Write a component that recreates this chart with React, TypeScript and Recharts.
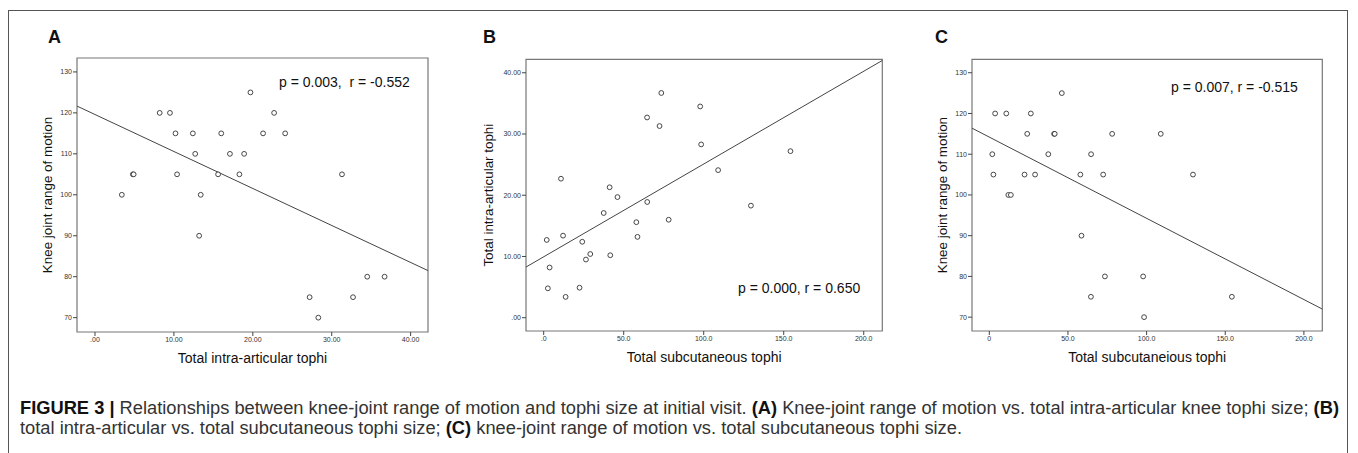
import React from 'react';
import { ScatterChart, Scatter, XAxis, YAxis, ReferenceArea, ReferenceLine } from 'recharts';

// One entry per patient
const subcutaneousTophi = [1.9, 2.6, 3.7, 10.8, 12.1, 13.7, 22.4, 24.1, 26.4, 29.1, 37.5, 41.2, 41.6, 46.1, 57.9, 58.6, 64.6, 64.7, 72.4, 73.5, 78.1, 97.8, 98.4, 109.0, 129.5, 154.2];
const intraArticularTophi = [12.7, 4.8, 8.2, 22.7, 13.4, 3.4, 4.9, 12.4, 9.5, 10.4, 17.1, 21.3, 10.2, 19.7, 15.6, 13.2, 32.7, 18.9, 31.3, 36.7, 16.0, 34.5, 28.3, 24.1, 18.3, 27.2];
const kneeRangeOfMotion = [110, 105, 120, 120, 100, 100, 105, 115, 120, 105, 110, 115, 115, 125, 105, 90, 75, 110, 105, 80, 115, 80, 70, 115, 105, 75];

// Axis ticks
const intraTicks = [0, 10, 20, 30, 40];
const kneeTicks = [70, 80, 90, 100, 110, 120, 130];
const subcutTicks = [0, 50, 100, 150, 200];

// Axis domains (as drawn)
const domainA_X = [-2.28, 42.2];
const domainA_Y = [66.5, 133.4];
const domainB_X = [-11.06, 211.6];
const domainB_Y = [-2.17, 42.2];
const domainC_X = [-11.0, 211.7];
const domainC_Y = [66.6, 133.3];

// Fitted lines: [intercept, slope]
const fitA = [119.6, -0.903];
const fitB = [9.95, 0.1515];
const fitC = [114.2, -0.1994];

const statsA = 'p = 0.003,  r = -0.552';
const statsB = 'p = 0.000, r = 0.650';
const statsC = 'p = 0.007, r = -0.515';

const FONT = '"Liberation Sans", Arial, sans-serif';

const dataA = intraArticularTophi.map((x, i) => ({ x, y: kneeRangeOfMotion[i] }));
const dataB = subcutaneousTophi.map((x, i) => ({ x, y: intraArticularTophi[i] }));
const dataC = subcutaneousTophi.map((x, i) => ({ x, y: kneeRangeOfMotion[i] }));

const OpenCircle = (props: any) => (
  <circle cx={props.cx} cy={props.cy} r={2.4} fill="#fff" stroke="#333" strokeWidth={0.9} />
);

type PanelProps = {
  left: number;
  width: number;
  margin: { top: number; right: number; bottom: number; left: number };
  yAxisWidth: number;
  data: { x: number; y: number }[];
  xDomain: number[];
  yDomain: number[];
  xTicks: number[];
  yTicks: number[];
  xFmt: (v: number) => string;
  yFmt: (v: number) => string;
  xTitle: string;
  yTitle: string;
  fit: number[];
};

const tickStyle = { fontSize: 7, fill: '#333', fontFamily: FONT };
const titleStyle = { fill: '#111', fontFamily: FONT };

function Panel(p: PanelProps) {
  const y0 = p.fit[0] + p.fit[1] * p.xDomain[0];
  const y1 = p.fit[0] + p.fit[1] * p.xDomain[1];
  return (
    <div style={{ position: 'absolute', left: p.left, top: 0 }}>
      <ScatterChart width={p.width} height={390} margin={p.margin}>
        <XAxis
          type="number"
          dataKey="x"
          domain={p.xDomain}
          ticks={p.xTicks}
          allowDataOverflow
          interval={0}
          tickFormatter={p.xFmt}
          tick={tickStyle}
          tickSize={4}
          tickMargin={1}
          axisLine={false}
          tickLine={{ stroke: '#444' }}
          height={52}
          label={{ value: p.xTitle, position: 'center', ...titleStyle, fontSize: 14 }}
        />
        <YAxis
          type="number"
          dataKey="y"
          domain={p.yDomain}
          ticks={p.yTicks}
          allowDataOverflow
          interval={0}
          tickFormatter={p.yFmt}
          tick={tickStyle}
          tickSize={4}
          tickMargin={1}
          axisLine={false}
          tickLine={{ stroke: '#444' }}
          width={p.yAxisWidth}
          label={{ value: p.yTitle, position: 'center', angle: -90, ...titleStyle, fontSize: 13.4 }}
        />
        <ReferenceArea
          x1={p.xDomain[0]}
          x2={p.xDomain[1]}
          y1={p.yDomain[0]}
          y2={p.yDomain[1]}
          fill="none"
          stroke="#777"
          strokeWidth={1.2}
          ifOverflow="visible"
        />
        <ReferenceLine
          segment={[
            { x: p.xDomain[0], y: y0 },
            { x: p.xDomain[1], y: y1 },
          ]}
          stroke="#444"
          strokeWidth={1}
          ifOverflow="visible"
        />
        <Scatter data={p.data} shape={OpenCircle} isAnimationActive={false} />
      </ScatterChart>
    </div>
  );
}

export default function App() {
  return (
    <div style={{ position: 'absolute', left: 0, top: 0, width: 1358, height: 453, background: '#fff', overflow: 'hidden' }}>
      <div
        style={{
          position: 'absolute',
          left: 8,
          top: 10,
          width: 1340,
          height: 470,
          border: '1px solid #555',
          borderBottom: 'none',
          boxSizing: 'border-box',
        }}
      />
      <Panel
        left={0}
        width={440}
        margin={{ top: 58, right: 12, bottom: 6, left: 17 }}
        yAxisWidth={60}
        data={dataA}
        xDomain={domainA_X}
        yDomain={domainA_Y}
        xTicks={intraTicks}
        yTicks={kneeTicks}
        xFmt={(v) => (v === 0 ? '.00' : v.toFixed(2))}
        yFmt={(v) => String(v)}
        xTitle="Total intra-articular tophi"
        yTitle="Knee joint range of motion"
        fit={fitA}
      />
      <Panel
        left={440}
        width={460}
        margin={{ top: 59.3, right: 17.7, bottom: 7, left: 10 }}
        yAxisWidth={76}
        data={dataB}
        xDomain={domainB_X}
        yDomain={domainB_Y}
        xTicks={subcutTicks}
        yTicks={intraTicks}
        xFmt={(v) => (v === 0 ? '.0' : v.toFixed(1))}
        yFmt={(v) => (v === 0 ? '.00' : v.toFixed(2))}
        xTitle="Total subcutaneous tophi"
        yTitle="Total intra-articular tophi"
        fit={fitB}
      />
      <Panel
        left={900}
        width={455}
        margin={{ top: 59.3, right: 32.7, bottom: 7, left: 12 }}
        yAxisWidth={60}
        data={dataC}
        xDomain={domainC_X}
        yDomain={domainC_Y}
        xTicks={subcutTicks}
        yTicks={kneeTicks}
        xFmt={(v) => (v === 0 ? '0' : v.toFixed(1))}
        yFmt={(v) => String(v)}
        xTitle="Total subcutaneious tophi"
        yTitle="Knee joint range of motion"
        fit={fitC}
      />
      <svg width={1358} height={453} style={{ position: 'absolute', left: 0, top: 0, pointerEvents: 'none' }}>
        <g fontFamily={FONT} fontWeight="bold" fontSize={18} fill="#111">
          <text x={48} y={43}>A</text>
          <text x={483} y={43}>B</text>
          <text x={935} y={43}>C</text>
        </g>
        <g fontFamily={FONT} fontSize={14} fill="#111">
          <text x={279} y={87} xmlSpace="preserve">{statsA}</text>
          <text x={738} y={293}>{statsB}</text>
          <text x={1171} y={92}>{statsC}</text>
        </g>
        <g fontFamily={FONT} fontSize={18.3} fill="#333">
          <text x={20} y={414}>
            <tspan fontWeight="bold" fill="#111">FIGURE 3 | </tspan>
            <tspan>Relationships between knee-joint range of motion and tophi size at initial visit. </tspan>
            <tspan fontWeight="bold" fill="#111">(A)</tspan>
            <tspan> Knee-joint range of motion vs. total intra-articular knee tophi size; </tspan>
            <tspan fontWeight="bold" fill="#111">(B)</tspan>
          </text>
          <text x={20} y={434}>
            <tspan>total intra-articular vs. total subcutaneous tophi size; </tspan>
            <tspan fontWeight="bold" fill="#111">(C)</tspan>
            <tspan> knee-joint range of motion vs. total subcutaneous tophi size.</tspan>
          </text>
        </g>
      </svg>
    </div>
  );
}
